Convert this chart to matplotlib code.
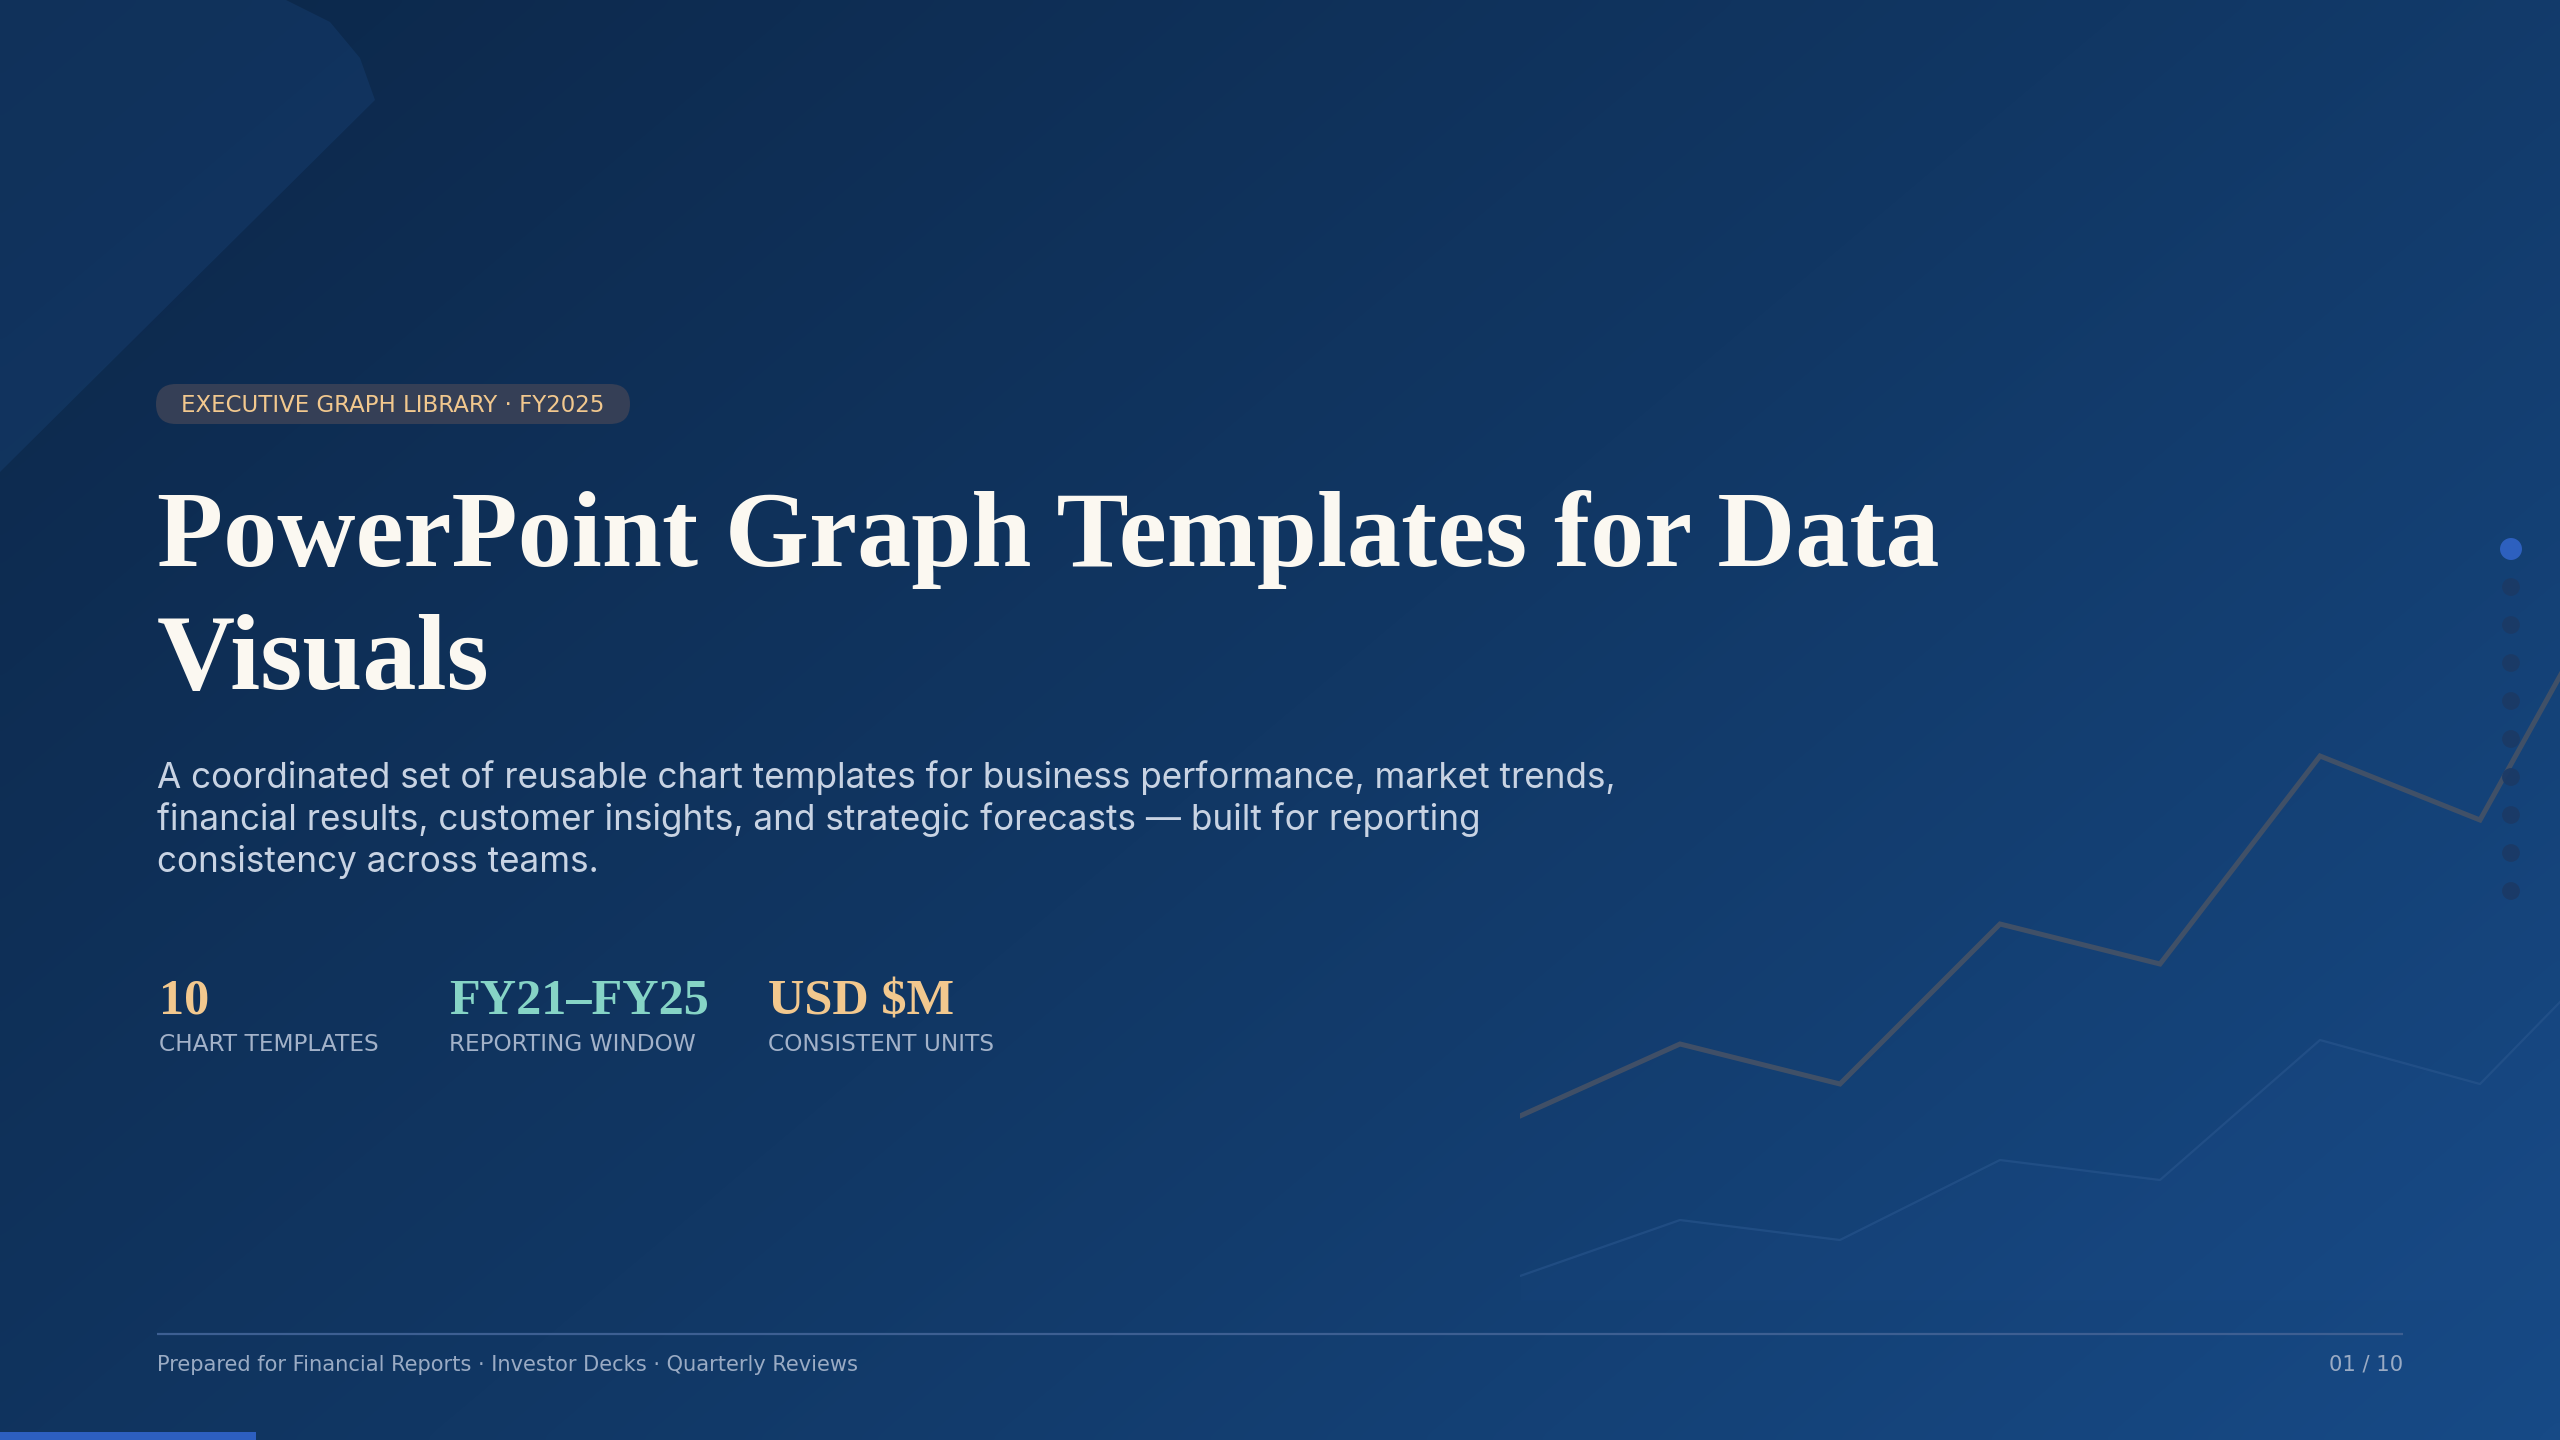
import numpy as np
import matplotlib
matplotlib.use("Agg")
import matplotlib.pyplot as plt
from matplotlib.patches import FancyBboxPatch, Polygon, Rectangle
from matplotlib.colors import LinearSegmentedColormap

# ---- contenido ----
badge_text = "EXECUTIVE GRAPH LIBRARY · FY2025"
title_lines = ["PowerPoint Graph Templates for Data", "Visuals"]
subtitle_lines = [
    "A coordinated set of reusable chart templates for business performance, market trends,",
    "financial results, customer insights, and strategic forecasts — built for reporting",
    "consistency across teams.",
]
stat_values = ["10", "FY21–FY25", "USD $M"]
stat_labels = ["CHART TEMPLATES", "REPORTING WINDOW", "CONSISTENT UNITS"]
footer_text = "Prepared for Financial Reports · Investor Decks · Quarterly Reviews"
slide_index = 1
slide_count = 10

# linea decorativa de fondo (indice relativo 0-100)
trend_main = [23, 32, 27, 47, 42, 68, 60, 96]
trend_soft = [3, 10, 7.5, 17.5, 15, 32.5, 27, 47.5]

W, H = 2560, 1440
fig = plt.figure(figsize=(W / 100, H / 100), dpi=100)
ax = fig.add_axes([0, 0, 1, 1])
ax.set_xlim(0, W)
ax.set_ylim(H, 0)
ax.axis("off")

# fondo degradado
yy, xx = np.mgrid[0:1:200j, 0:1:356j]
grad = np.clip(0.6 * xx + 0.4 * yy, 0, 1)
bg = LinearSegmentedColormap.from_list("bg", ["#0c2749", "#113764", "#174a86"])
ax.imshow(grad, cmap=bg, extent=[0, W, H, 0], aspect="auto", zorder=0, interpolation="bicubic")

# forma clara arriba a la izquierda
ax.add_patch(Polygon([(0, 0), (286, 0), (330, 22), (360, 58), (375, 100), (0, 472)],
                     closed=True, fc="#1c4c88", ec="none", alpha=0.28, zorder=1))

renderer = fig.canvas.get_renderer()


def fit(t, target):
    w = t.get_window_extent(renderer).width
    t.set_fontsize(t.get_fontsize() * target / w)
    return t.get_fontsize()


# badge
ax.add_patch(FancyBboxPatch((156, 384), 474, 40, boxstyle="round,pad=0,rounding_size=20",
                            fc="#353f56", ec="none", zorder=2))
tb = ax.text(393, 412, badge_text, ha="center", va="baseline", color="#f2c88e",
             family="DejaVu Sans", fontsize=14, zorder=3)
fit(tb, 424)

# titulo
t1 = ax.text(157, 566, title_lines[0], family="Liberation Serif", weight="bold",
             color="#fbf8f1", fontsize=80, va="baseline", zorder=3)
fs = fit(t1, 1781)
ax.text(157, 689, title_lines[1], family="Liberation Serif", weight="bold",
        color="#fbf8f1", fontsize=fs, va="baseline", zorder=3)

# subtitulo
sub_y = [788, 830, 872]
s1 = ax.text(157, sub_y[0], subtitle_lines[0], family="Inter", color="#c8d3e3",
             fontsize=24, va="baseline", zorder=3)
fs = fit(s1, 1460)
for line, y in zip(subtitle_lines[1:], sub_y[1:]):
    ax.text(157, y, line, family="Inter", color="#c8d3e3", fontsize=fs, va="baseline", zorder=3)

# indicadores
stat_x = [159, 449, 768]
stat_colors = ["#f2c88e", "#86d4c6", "#f2c88e"]
tv = [ax.text(x, 1014, v, family="Liberation Serif", weight="bold", color=c,
              fontsize=36, va="baseline", zorder=3)
      for x, v, c in zip(stat_x, stat_values, stat_colors)]
fs = fit(tv[1], 260)
for t in tv:
    t.set_fontsize(fs)
tl = [ax.text(x, 1051, lab, family="DejaVu Sans", color="#a3b2c9", fontsize=14,
              va="baseline", zorder=3)
      for x, lab in zip(stat_x, stat_labels)]
fs = fit(tl[1], 248)
for t in tl:
    t.set_fontsize(fs)

# pie de pagina
ax.hlines(1334, 157, 2403, color="#3d5f92", lw=1.6, zorder=3)
tf = ax.text(157, 1371, footer_text, family="DejaVu Sans", color="#9aabc4",
             fontsize=12, va="baseline", zorder=3)
fit(tf, 703)
ax.text(2403, 1371, f"{slide_index:02d} / {slide_count}", family="DejaVu Sans",
        color="#9aabc4", fontsize=tf.get_fontsize(), ha="right", va="baseline", zorder=3)
ax.add_patch(Rectangle((0, 1432), 256, 8, fc="#2d5fc0", ec="none", zorder=3))

# grafico decorativo
dax = fig.add_axes([1520 / W, 1 - 1300 / H, 1120 / W, 800 / H])
dax.patch.set_alpha(0)
dax.axis("off")
xs = np.arange(len(trend_main))
dax.fill_between(xs, trend_soft, 0, color="#3a6db5", alpha=0.04, lw=0)
dax.plot(xs, trend_soft, color="#2b5890", lw=1.6, alpha=0.55)
dax.plot(xs, trend_main, color="#465266", lw=3.6, alpha=0.9, solid_joinstyle="miter")
dax.set_xlim(0, len(trend_main) - 1)
dax.set_ylim(0, 100)

# puntos de navegacion
nax = fig.add_axes([2491 / W, 1 - 910 / H, 40 / W, 380 / H])
nax.patch.set_alpha(0)
nax.axis("off")
idx = np.arange(slide_count)
cols = ["#2f62c4" if i == slide_index - 1 else "#1b3a66" for i in idx]
sizes = [250 if i == slide_index - 1 else 165 for i in idx]
nax.scatter(np.zeros(slide_count), idx, s=sizes, c=cols, lw=0, alpha=0.95)
nax.set_xlim(-1, 1)
nax.set_ylim(slide_count - 0.5, -0.5)

fig.savefig("out.png", dpi=100)
